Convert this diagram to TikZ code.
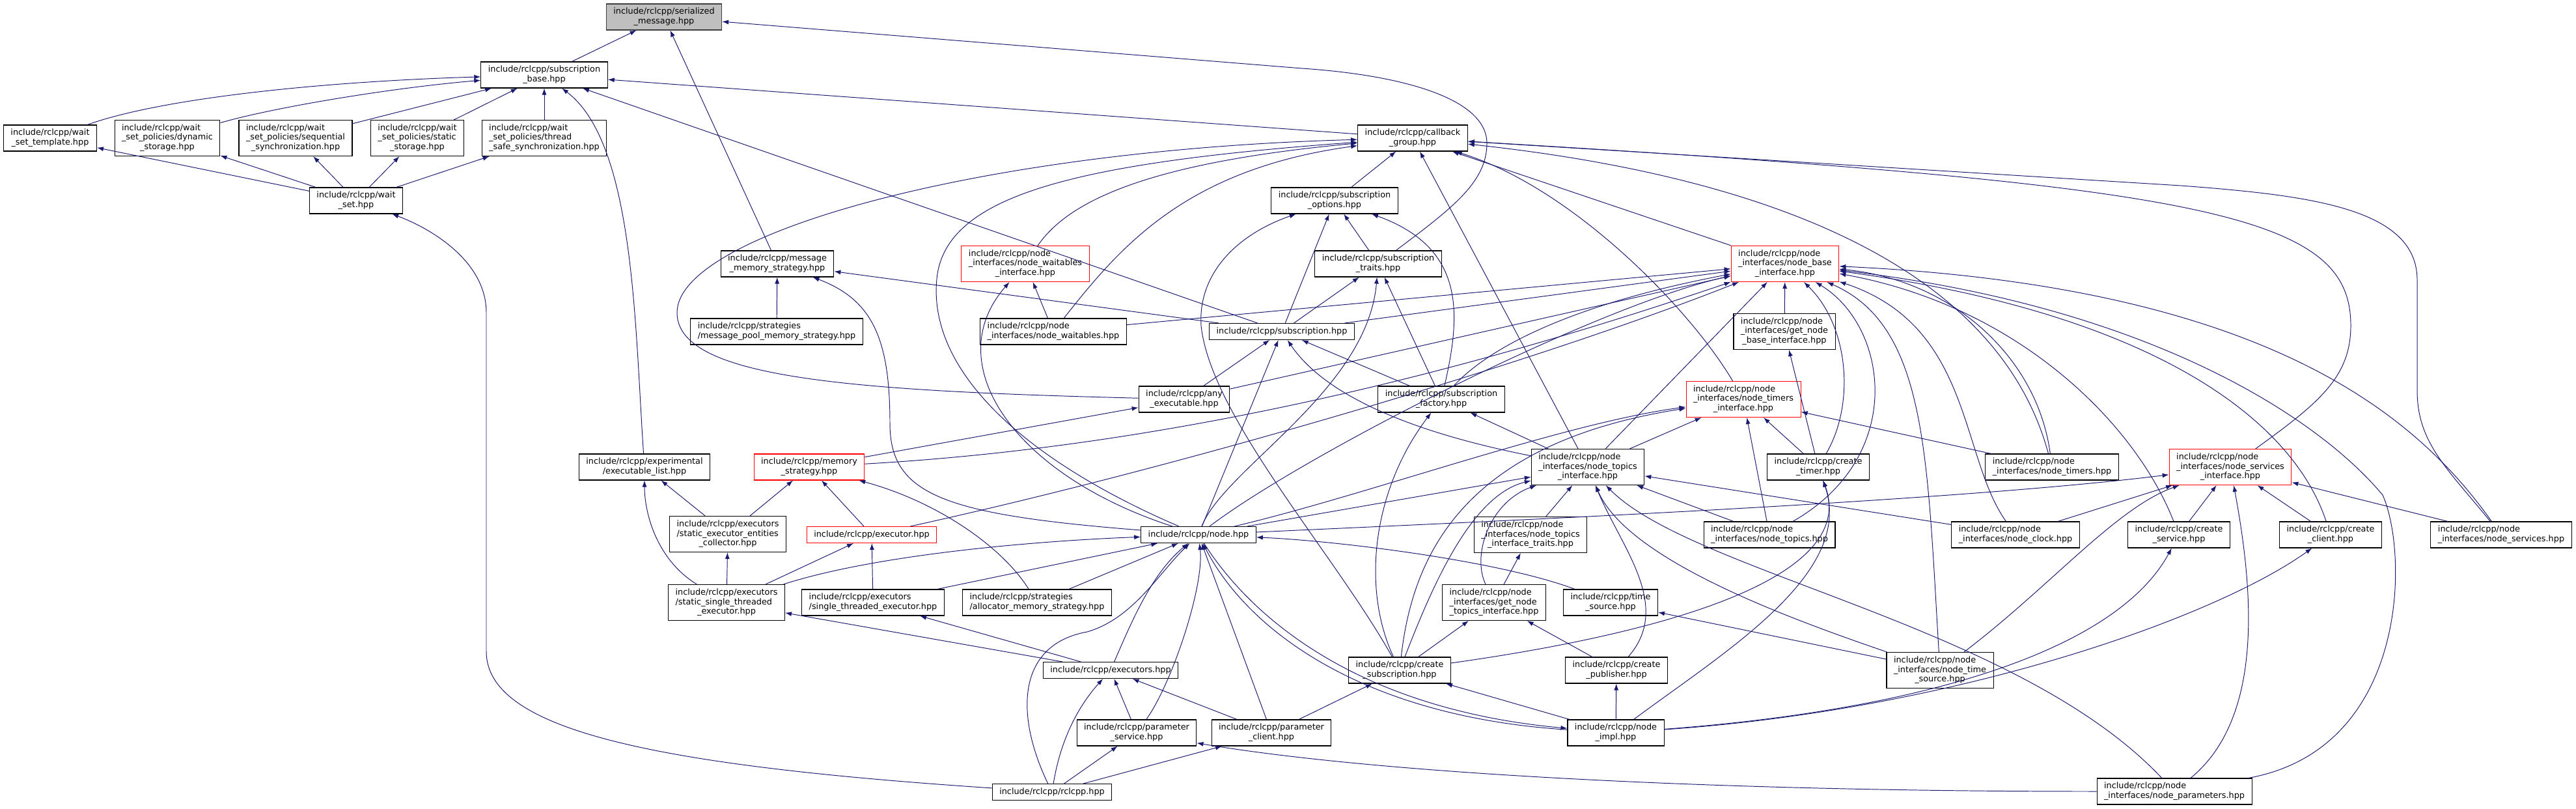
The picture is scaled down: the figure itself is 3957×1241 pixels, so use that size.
\documentclass[tikz,border=0pt]{standalone}
\usepackage{fontspec}
\newfontfamily\dxfont{DejaVu Sans}
\usetikzlibrary{arrows.meta}
\definecolor{edgeblue}{RGB}{25,25,112}
\definecolor{seedgray}{RGB}{191,191,191}
% file name label: first lines flush left, last line centred
\newcommand{\fname}[2]{\begin{tabular}{@{}l@{}}#1\\\multicolumn{1}{@{}c@{}}{#2}\end{tabular}}
\tikzset{
  file/.style={draw=black, fill=white, line width=0.6pt, inner xsep=2.2mm, inner ysep=0pt,
    minimum height=8mm, font={\dxfont\fontsize{7.3}{8.5}\selectfont}},
  oneline/.style={minimum height=5mm},
  threeline/.style={minimum height=11mm},
  redfile/.style={draw=red},
  seedfile/.style={fill=seedgray, draw=black!75},
  dep/.style={draw=edgeblue, line width=0.55pt, -{Latex[length=2mm,width=1.4mm]}},
}
\begin{document}
\begin{tikzpicture}[x=0.2mm, y=-0.2mm]
	\useasboundingbox (0,0) rectangle (3957,1241);
	% Files:
	\node[file, seedfile] (ser) at (1020,26) {\fname{include/rclcpp/serialized}{\_message.hpp}};
	\node[file] (sbase) at (836,115) {\fname{include/rclcpp/subscription}{\_base.hpp}};
	\node[file] (wst) at (77,212) {\fname{include/rclcpp/wait}{\_set\_template.hpp}};
	\node[file, threeline] (wdyn) at (257,212) {\fname{include/rclcpp/wait\\\_set\_policies/dynamic}{\_storage.hpp}};
	\node[file, threeline] (wseq) at (454,212) {\fname{include/rclcpp/wait\\\_set\_policies/sequential}{\_synchronization.hpp}};
	\node[file, threeline] (wsta) at (641,212) {\fname{include/rclcpp/wait\\\_set\_policies/static}{\_storage.hpp}};
	\node[file, threeline] (wthr) at (836,212) {\fname{include/rclcpp/wait\\\_set\_policies/thread}{\_safe\_synchronization.hpp}};
	\node[file] (cbg) at (2170,212) {\fname{include/rclcpp/callback}{\_group.hpp}};
	\node[file] (wset) at (547,308) {\fname{include/rclcpp/wait}{\_set.hpp}};
	\node[file] (opt) at (2050,308) {\fname{include/rclcpp/subscription}{\_options.hpp}};
	\node[file] (mms) at (1194,405) {\fname{include/rclcpp/message}{\_memory\_strategy.hpp}};
	\node[file, threeline, redfile] (nwi) at (1575,405) {\fname{include/rclcpp/node\\\_interfaces/node\_waitables}{\_interface.hpp}};
	\node[file] (trt) at (2117,405) {\fname{include/rclcpp/subscription}{\_traits.hpp}};
	\node[file, threeline, redfile] (nbi) at (2742,405) {\fname{include/rclcpp/node\\\_interfaces/node\_base}{\_interface.hpp}};
	\node[file] (mps) at (1193,509) {\fname{include/rclcpp/strategies}{/message\_pool\_memory\_strategy.hpp}};
	\node[file] (nwh) at (1618,509) {\fname{include/rclcpp/node}{\_interfaces/node\_waitables.hpp}};
	\node[file, oneline] (sub) at (1969,509) {include/rclcpp/subscription.hpp};
	\node[file, threeline] (gnbi) at (2741,509) {\fname{include/rclcpp/node\\\_interfaces/get\_node}{\_base\_interface.hpp}};
	\node[file] (anyx) at (1819,613) {\fname{include/rclcpp/any}{\_executable.hpp}};
	\node[file] (sfac) at (2214,613) {\fname{include/rclcpp/subscription}{\_factory.hpp}};
	\node[file, threeline, redfile] (nti) at (2678,613) {\fname{include/rclcpp/node\\\_interfaces/node\_timers}{\_interface.hpp}};
	\node[file] (exl) at (990,717) {\fname{include/rclcpp/experimental}{/executable\_list.hpp}};
	\node[file, redfile] (mst) at (1243,717) {\fname{include/rclcpp/memory}{\_strategy.hpp}};
	\node[file, threeline] (ntopi) at (2439,717) {\fname{include/rclcpp/node\\\_interfaces/node\_topics}{\_interface.hpp}};
	\node[file] (ctim) at (2793,717) {\fname{include/rclcpp/create}{\_timer.hpp}};
	\node[file] (ntm) at (3152,717) {\fname{include/rclcpp/node}{\_interfaces/node\_timers.hpp}};
	\node[file, threeline, redfile] (nsi) at (3426,717) {\fname{include/rclcpp/node\\\_interfaces/node\_services}{\_interface.hpp}};
	\node[file, threeline] (secol) at (1118,820) {\fname{include/rclcpp/executors\\/static\_executor\_entities}{\_collector.hpp}};
	\node[file, oneline, redfile] (exe) at (1339,821) {include/rclcpp/executor.hpp};
	\node[file, oneline] (node) at (1841,821) {include/rclcpp/node.hpp};
	\node[file, threeline] (ntt) at (2351,821) {\fname{include/rclcpp/node\\\_interfaces/node\_topics}{\_interface\_traits.hpp}};
	\node[file] (ntp) at (2718,821) {\fname{include/rclcpp/node}{\_interfaces/node\_topics.hpp}};
	\node[file] (nclk) at (3096,821) {\fname{include/rclcpp/node}{\_interfaces/node\_clock.hpp}};
	\node[file] (csrv) at (3347,821) {\fname{include/rclcpp/create}{\_service.hpp}};
	\node[file] (ccli) at (3580,821) {\fname{include/rclcpp/create}{\_client.hpp}};
	\node[file] (nsv) at (3842,821) {\fname{include/rclcpp/node}{\_interfaces/node\_services.hpp}};
	\node[file, threeline] (sst) at (1116,925) {\fname{include/rclcpp/executors\\/static\_single\_threaded}{\_executor.hpp}};
	\node[file] (ste) at (1341,925) {\fname{include/rclcpp/executors}{/single\_threaded\_executor.hpp}};
	\node[file] (alloc) at (1593,925) {\fname{include/rclcpp/strategies}{/allocator\_memory\_strategy.hpp}};
	\node[file, threeline] (gnti) at (2295,925) {\fname{include/rclcpp/node\\\_interfaces/get\_node}{\_topics\_interface.hpp}};
	\node[file] (ts) at (2474,925) {\fname{include/rclcpp/time}{\_source.hpp}};
	\node[file, oneline] (exs) at (1706,1029) {include/rclcpp/executors.hpp};
	\node[file] (csub) at (2150,1029) {\fname{include/rclcpp/create}{\_subscription.hpp}};
	\node[file] (cpub) at (2483,1029) {\fname{include/rclcpp/create}{\_publisher.hpp}};
	\node[file, threeline] (nts) at (2980,1029) {\fname{include/rclcpp/node\\\_interfaces/node\_time}{\_source.hpp}};
	\node[file] (psv) at (1746,1125) {\fname{include/rclcpp/parameter}{\_service.hpp}};
	\node[file] (pcl) at (1953,1125) {\fname{include/rclcpp/parameter}{\_client.hpp}};
	\node[file] (nimp) at (2482,1125) {\fname{include/rclcpp/node}{\_impl.hpp}};
	\node[file, oneline] (rcl) at (1616,1216) {include/rclcpp/rclcpp.hpp};
	\node[file] (npar) at (3340,1215) {\fname{include/rclcpp/node}{\_interfaces/node\_parameters.hpp}};

	% Includes (arrow points at the included file):
	\draw[dep] (sbase) -- (ser);
	\draw[dep] (mms) -- (ser);
	\draw[dep] (trt) .. controls (2230,320) and (2284,280) .. (2284,220) .. controls (2284,150) and (2150,115) .. (2000,105) -- (ser);
	\draw[dep] (wst) .. controls (250,150) and (500,125) .. (sbase);
	\draw[dep] (wdyn) .. controls (420,165) and (600,135) .. (sbase);
	\draw[dep] (wseq) -- (sbase);
	\draw[dep] (wsta) -- (sbase);
	\draw[dep] (wthr) -- (sbase);
	\draw[dep] (cbg) -- (sbase);
	\draw[dep] (sub) -- (sbase);
	\draw[dep] (exl) .. controls (975,500) and (975,220) .. (sbase);
	\draw[dep] (wset) -- (wst);
	\draw[dep] (wset) -- (wdyn);
	\draw[dep] (wset) -- (wseq);
	\draw[dep] (wset) -- (wsta);
	\draw[dep] (wset) -- (wthr);
	\draw[dep] (rcl) .. controls (1000,1175) and (747,1120) .. (747,1000) -- (747,480) .. controls (747,400) and (660,350) .. (wset);
	\draw[dep] (opt) -- (cbg);
	\draw[dep] (ntopi) -- (cbg);
	\draw[dep] (nbi) -- (cbg);
	\draw[dep] (nti) .. controls (2600,480) and (2420,290) .. (cbg);
	\draw[dep] (nsi) .. controls (3560,620) and (3611,580) .. (3611,500) .. controls (3611,330) and (3400,285) .. (cbg);
	\draw[dep] (nsv) .. controls (3760,720) and (3713,680) .. (3713,600) -- (3713,430) .. controls (3713,320) and (3550,300) .. (3350,285) -- (cbg);
	\draw[dep] (ntm) .. controls (3080,450) and (2800,280) .. (cbg);
	\draw[dep] (nwi) .. controls (1640,310) and (1760,250) .. (cbg);
	\draw[dep] (nwh) .. controls (1720,380) and (1820,260) .. (cbg);
	\draw[dep] (anyx) .. controls (1300,600) and (1040,580) .. (1040,480) .. controls (1040,360) and (1500,230) .. (cbg);
	\draw[dep] (node) .. controls (1560,700) and (1420,560) .. (1440,420) .. controls (1460,300) and (1650,250) .. (cbg);
	\draw[dep] (mps) -- (mms);
	\draw[dep] (sub) -- (mms);
	\draw[dep] (node) .. controls (1450,790) and (1367,760) .. (1367,650) .. controls (1367,520) and (1340,460) .. (mms);
	\draw[dep] (nwh) -- (nwi);
	\draw[dep] (node) .. controls (1560,730) and (1440,560) .. (nwi);
	\draw[dep] (anyx) -- (sub);
	\draw[dep] (node) -- (sub);
	\draw[dep] (sfac) -- (sub);
	\draw[dep] (ntopi) .. controls (2150,660) and (2030,600) .. (sub);
	\draw[dep] (sub) -- (opt);
	\draw[dep] (trt) -- (opt);
	\draw[dep] (sfac) .. controls (2245,480) and (2250,380) .. (opt);
	\draw[dep] (csub) .. controls (2050,850) and (1860,640) .. (1845,500) .. controls (1840,420) and (1900,360) .. (opt);
	\draw[dep] (sub) -- (trt);
	\draw[dep] (sfac) -- (trt);
	\draw[dep] (node) .. controls (1880,720) and (2100,600) .. (trt);
	\draw[dep] (csub) .. controls (2090,900) and (2110,750) .. (sfac);
	\draw[dep] (ntopi) -- (sfac);
	\draw[dep] (mst) -- (anyx);
	\draw[dep] (secol) -- (mst);
	\draw[dep] (exe) -- (mst);
	\draw[dep] (alloc) .. controls (1540,840) and (1440,770) .. (mst);
	\draw[dep] (secol) -- (exl);
	\draw[dep] (sst) .. controls (1010,860) and (990,790) .. (exl);
	\draw[dep] (sst) -- (secol);
	\draw[dep] (sst) -- (exe);
	\draw[dep] (ste) -- (exe);
	\draw[dep] (sst) .. controls (1350,850) and (1600,830) .. (node);
	\draw[dep] (ste) -- (node);
	\draw[dep] (alloc) -- (node);
	\draw[dep] (exs) .. controls (1740,950) and (1770,880) .. (node);
	\draw[dep] (psv) .. controls (1800,1050) and (1850,900) .. (node);
	\draw[dep] (rcl) .. controls (1560,1100) and (1560,990) .. (1670,970) .. controls (1740,950) and (1780,880) .. (node);
	\draw[dep] (pcl) -- (node);
	\draw[dep] (node) .. controls (1930,960) and (2100,1090) .. (nimp);
	\draw[dep] (nimp) .. controls (2090,1100) and (1915,965) .. (node);
	\draw[dep] (ts) .. controls (2300,860) and (2050,830) .. (node);
	\draw[dep] (exs) -- (sst);
	\draw[dep] (exs) -- (ste);
	\draw[dep] (rcl) .. controls (1630,1130) and (1660,1080) .. (exs);
	\draw[dep] (psv) -- (exs);
	\draw[dep] (pcl) -- (exs);
	\draw[dep] (rcl) -- (psv);
	\draw[dep] (rcl) -- (pcl);
	\draw[dep] (pcl) -- (csub);
	\draw[dep] (npar) .. controls (2600,1215) and (2100,1185) .. (psv);
	% node_base_interface users
	\draw[dep] (nwh) -- (nbi);
	\draw[dep] (sub) -- (nbi);
	\draw[dep] (anyx) -- (nbi);
	\draw[dep] (sfac) .. controls (2300,520) and (2450,460) .. (nbi);
	\draw[dep] (mst) .. controls (1900,680) and (2400,520) .. (nbi);
	\draw[dep] (exe) .. controls (1800,720) and (2350,560) .. (nbi);
	\draw[dep] (node) .. controls (2000,700) and (2450,470) .. (nbi);
	\draw[dep] (ntopi) -- (nbi);
	\draw[dep] (gnbi) -- (nbi);
	\draw[dep] (ctim) .. controls (2850,620) and (2840,500) .. (nbi);
	\draw[dep] (ntp) .. controls (2930,700) and (2900,500) .. (nbi);
	\draw[dep] (nts) .. controls (2960,700) and (2960,500) .. (nbi);
	\draw[dep] (ntm) .. controls (3130,550) and (3000,430) .. (nbi);
	\draw[dep] (nclk) .. controls (3010,700) and (3030,500) .. (nbi);
	\draw[dep] (csrv) .. controls (3280,650) and (3100,470) .. (nbi);
	\draw[dep] (ccli) .. controls (3520,640) and (3300,480) .. (nbi);
	\draw[dep] (nsv) .. controls (3720,650) and (3500,440) .. (nbi);
	\draw[dep] (npar) .. controls (3700,1150) and (3700,850) .. (3660,760) .. controls (3560,640) and (3300,470) .. (nbi);
	\draw[dep] (ctim) -- (gnbi);
	% timers
	\draw[dep] (node) .. controls (2100,760) and (2400,650) .. (nti);
	\draw[dep] (csub) .. controls (2170,850) and (2250,680) .. (nti);
	\draw[dep] (ntopi) -- (nti);
	\draw[dep] (ntp) -- (nti);
	\draw[dep] (ctim) -- (nti);
	\draw[dep] (ntm) -- (nti);
	\draw[dep] (csub) .. controls (2500,980) and (2860,900) .. (ctim);
	\draw[dep] (nimp) .. controls (2650,1000) and (2850,880) .. (ctim);
	% topics
	\draw[dep] (node) -- (ntopi);
	\draw[dep] (csub) .. controls (2200,900) and (2260,760) .. (ntopi);
	\draw[dep] (gnti) .. controls (2260,850) and (2290,770) .. (ntopi);
	\draw[dep] (ntt) -- (ntopi);
	\draw[dep] (cpub) .. controls (2570,930) and (2490,840) .. (ntopi);
	\draw[dep] (nts) .. controls (2750,950) and (2500,860) .. (ntopi);
	\draw[dep] (npar) .. controls (3100,960) and (2600,880) .. (ntopi);
	\draw[dep] (ntp) -- (ntopi);
	\draw[dep] (nclk) -- (ntopi);
	\draw[dep] (gnti) -- (ntt);
	\draw[dep] (csub) -- (gnti);
	\draw[dep] (cpub) -- (gnti);
	\draw[dep] (nimp) -- (cpub);
	\draw[dep] (nimp) -- (csub);
	\draw[dep] (nts) -- (ts);
	% services
	\draw[dep] (node) .. controls (2300,800) and (3000,770) .. (nsi);
	\draw[dep] (nclk) -- (nsi);
	\draw[dep] (nts) .. controls (3150,900) and (3250,780) .. (nsi);
	\draw[dep] (csrv) -- (nsi);
	\draw[dep] (npar) .. controls (3480,1100) and (3460,900) .. (nsi);
	\draw[dep] (ccli) -- (nsi);
	\draw[dep] (nsv) -- (nsi);
	\draw[dep] (nimp) .. controls (2950,1090) and (3250,1000) .. (csrv);
	\draw[dep] (nimp) .. controls (3000,1090) and (3400,950) .. (ccli);
\end{tikzpicture}
\end{document}
